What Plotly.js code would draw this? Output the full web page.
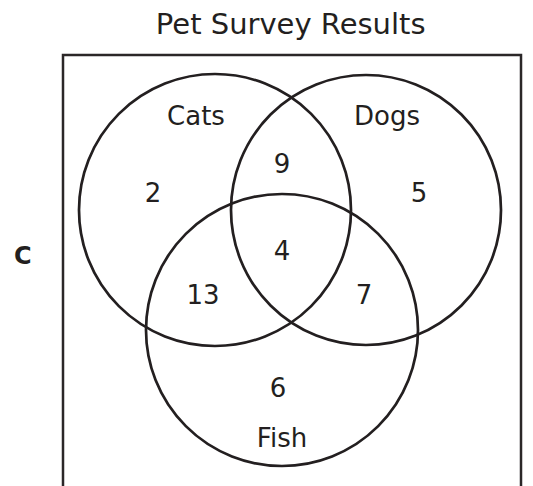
<!DOCTYPE html>
<html><head><meta charset="utf-8">
<script src="https://cdn.plot.ly/plotly-3.0.1.min.js"></script>
<style>html,body{margin:0;padding:0;background:#fff}</style>
</head><body>
<div id="chart" style="width:533px;height:486px"></div>
<script>
// Data
const sets = ['Cats', 'Dogs', 'Fish'];
const regions = ['Cats only', 'Cats & Dogs', 'Dogs only', 'All three', 'Cats & Fish', 'Dogs & Fish', 'Fish only'];
const counts = [2, 9, 5, 4, 13, 7, 6];
const universeLabel = 'C';
const chartTitle = 'Pet Survey Results';

// Layout geometry (pixel-like units)
const circles = {
  Cats: {cx: 215, cy: 210, r: 136},
  Dogs: {cx: 366, cy: 210, r: 135},
  Fish: {cx: 282, cy: 330, r: 136}
};
const setLabelPos = {Cats: [196, 118], Dogs: [387, 118], Fish: [282, 440]};
const regionPos = {
  'Cats only': [153, 195], 'Cats & Dogs': [282, 166], 'Dogs only': [419, 195],
  'All three': [282, 253], 'Cats & Fish': [203, 297], 'Dogs & Fish': [364, 297],
  'Fish only': [278, 390]
};

const ink = '#231f20';
const font = 'DejaVu Sans, Verdana, sans-serif';

const shapes = [{
  type: 'rect', xref: 'x', yref: 'y', x0: 63, y0: 55, x1: 521, y1: 492,
  line: {color: '#2b2728', width: 2.5}
}];
sets.forEach(s => {
  const c = circles[s];
  shapes.push({type: 'circle', xref: 'x', yref: 'y',
    x0: c.cx - c.r, x1: c.cx + c.r, y0: c.cy - c.r, y1: c.cy + c.r,
    line: {color: ink, width: 2.7}});
});

const traces = [
  {type: 'scatter', mode: 'text', x: regions.map(r => regionPos[r][0]), y: regions.map(r => regionPos[r][1]),
   text: counts.map(String), textfont: {family: font, size: 26, color: ink}, hoverinfo: 'skip', showlegend: false},
  {type: 'scatter', mode: 'text', x: sets.map(s => setLabelPos[s][0]), y: sets.map(s => setLabelPos[s][1]),
   text: sets, textfont: {family: font, size: 26, color: ink}, hoverinfo: 'skip', showlegend: false}
];

const layout = {
  width: 533, height: 486,
  margin: {l: 0, r: 0, t: 0, b: 0},
  paper_bgcolor: '#fff', plot_bgcolor: '#fff',
  xaxis: {range: [0, 533], visible: false, fixedrange: true},
  yaxis: {range: [486, 0], visible: false, fixedrange: true},
  title: {text: chartTitle, font: {family: font, size: 29, color: ink},
          x: 290.7 / 533, xanchor: 'center', y: 1 - 24 / 486, yanchor: 'middle', xref: 'container', yref: 'container'},
  shapes: shapes,
  annotations: [{xref: 'x', yref: 'y', x: 23, y: 256, text: '<b>' + universeLabel + '</b>', showarrow: false,
    font: {family: font, size: 24, color: ink}}]
};

Plotly.newPlot('chart', traces, layout, {displayModeBar: false, staticPlot: true});
</script>
</body></html>
